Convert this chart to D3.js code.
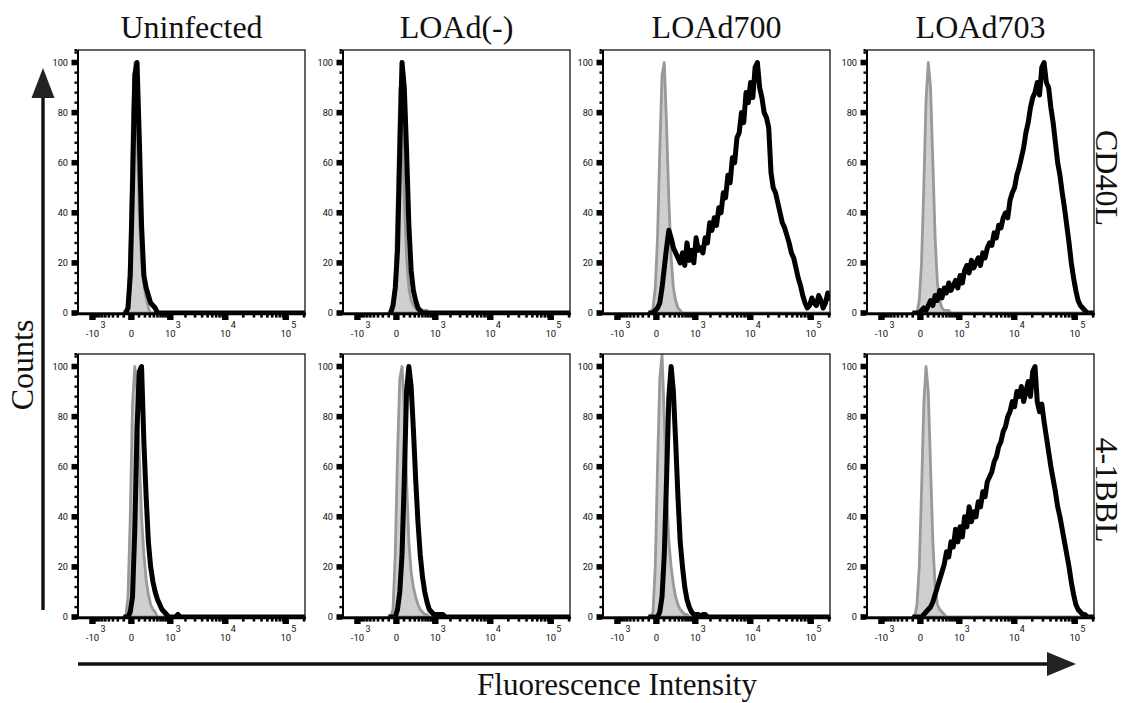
<!DOCTYPE html>
<html><head><meta charset="utf-8">
<script src="https://cdn.jsdelivr.net/npm/d3@7"></script>
<style>body{margin:0;background:#fff}</style>
</head><body><svg id="c" width="1129" height="703"></svg>
<script>
// ---------------- data ----------------
const columns = ["Uninfected", "LOAd(-)", "LOAd700", "LOAd703"];
const rows = ["CD40L", "4-1BBL"];

// histogram bin centres (fluorescence intensity, biexponential axis)
const bins = [-105,-72,-41,-13,13,41,71,104,140,180,223,269,320,376,436,502,573,650,736,828,
  929,1038,1158,1287,1430,1583,1753,1935,2135,2351,2589,2846,3125,3432,3764,4129,4521,4954,5420,5934,
  6487,7095,7752,8474,9255,10110,11037,12042,13152,14346,15660,17079,18639,20316,22167,24162,26355,28725,31329,34140,
  37230,40560,44190,48180,52500,57210,62340,67920,74010,80670,87870,95760,104310,113670,123810,134910,146940,160110,174390,190050,206940];

// counts (% of max) per bin; gray = control, black = stained sample
const uninfCD40L_ctrl = [0,0,3,30,80,100,75,40,20,12,6,2,0];
const uninfCD40L      = [0,0,2,15,50,95,100,70,35,15,10,7,4,3,2,0];
const negCD40L_ctrl   = [0,0,2,15,50,90,80,45,22,10,5,3,2,1,1,1,1,1,0];
const negCD40L        = [0,0,3,10,25,65,100,90,65,35,17,9,5,2,1,0];
const l700CD40L_ctrl  = [0,0,2,10,30,65,95,100,75,45,22,10,5,2,1,0];
const l700CD40L       = [0,0,0,1,2,4,10,18,26,33,30,26,24,22,20,24,19,28,21,25,
  20,30,25,26,24,30,28,36,33,38,35,42,40,48,46,55,52,62,60,70,
  72,80,76,88,84,92,86,98,100,90,86,80,78,74,56,50,48,44,40,36,
  34,31,28,24,22,18,14,11,7,4,2,3,6,4,3,7,5,2,4,8,5];
const l703CD40L_ctrl  = [0,0,0,5,20,50,85,100,90,60,30,12,5,2,1,1,1,0];
const l703CD40L       = [0,0,0,0,1,2,1,3,5,3,7,5,9,6,10,8,12,9,11,13,
  10,15,12,17,19,16,21,18,20,22,19,24,22,26,28,27,32,30,35,34,
  38,40,38,45,48,50,55,58,62,66,72,76,82,86,88,92,87,98,100,92,
  90,82,76,68,60,55,48,42,35,28,20,14,9,5,3,2,1,0];
const uninfBBL_ctrl   = [0,0,8,40,85,100,90,65,40,25,15,9,5,3,2,0];
const uninfBBL        = [0,0,0,2,8,35,75,98,100,70,48,30,20,14,10,7,5,3,2,1,0,0,0,0,1,0];
const negBBL_ctrl     = [0,0,3,25,65,95,100,85,55,30,18,12,8,5,3,2,1,1,0];
const negBBL          = [0,0,0,0,3,10,25,55,90,100,92,75,55,38,25,16,10,6,3,2,1,1,1,1,1,0];
const l700BBL_ctrl    = [0,0,2,20,60,95,105,80,50,30,20,13,8,5,3,2,1,1,0];
const l700BBL         = [0,0,0,0,0,2,8,25,55,88,100,90,70,48,30,20,12,7,4,2,1,1,1,0,1,1,0];
const l703BBL_ctrl    = [0,0,5,20,50,85,100,90,60,30,12,5,3,2,1,0];
const l703BBL         = [0,0,0,0,0,1,2,3,4,6,9,12,15,18,21,26,24,30,28,35,
  30,36,32,40,36,44,38,42,40,46,44,50,48,54,56,58,62,64,68,70,
  74,76,80,82,86,84,90,88,92,86,90,94,88,98,100,86,82,85,78,72,
  66,60,55,50,44,40,35,30,25,20,14,9,5,3,2,1,1,0];

// axis ticks
const yTicks = [0, 20, 40, 60, 80, 100];
const xTickValues = [-1000, 0, 1000, 10000, 100000];
const xTickBase = ["-10", "0", "10", "10", "10"];
const xTickExp  = ["3", "", "3", "4", "5"];
const xMinorTicks = [-900,-800,-700,-600,-500,-400,-300,-200,-100,100,200,300,400,500,600,700,800,900,
  2000,3000,4000,5000,6000,7000,8000,9000,20000,30000,40000,50000,60000,70000,80000,90000,200000];

const panels = [
  {r:0,c:0,ctrl:uninfCD40L_ctrl,stain:uninfCD40L},
  {r:0,c:1,ctrl:negCD40L_ctrl,stain:negCD40L},
  {r:0,c:2,ctrl:l700CD40L_ctrl,stain:l700CD40L},
  {r:0,c:3,ctrl:l703CD40L_ctrl,stain:l703CD40L},
  {r:1,c:0,ctrl:uninfBBL_ctrl,stain:uninfBBL},
  {r:1,c:1,ctrl:negBBL_ctrl,stain:negBBL},
  {r:1,c:2,ctrl:l700BBL_ctrl,stain:l700BBL},
  {r:1,c:3,ctrl:l703BBL_ctrl,stain:l703BBL}
];

// ---------------- layout ----------------
const colLeft = [78, 343, 603, 867];
const rowTop = [50, 354];
const pw = 227, ph = 263;

const svg = d3.select("#c");
const x = d3.scaleSymlog().constant(300).domain([-1940, 207000]).range([0, pw]);
const y = d3.scaleLinear().domain([0, 105]).range([ph, 0]);
const pad = a => bins.map((b, i) => i < a.length ? a[i] : 0);

const area = d3.area().x((d, i) => x(bins[i])).y0(y(0)).y1(d => y(d));
const line = d3.line().x((d, i) => x(bins[i])).y(d => y(d));

const defs = svg.append("defs");
defs.append("clipPath").attr("id", "clip").append("rect")
  .attr("x", -1).attr("y", 0).attr("width", pw + 1).attr("height", ph + 2);

const tickFont = "Roboto, sans-serif";
panels.forEach(p => {
  const g = svg.append("g").attr("transform", `translate(${colLeft[p.c]},${rowTop[p.r]})`);
  const h = g.append("g").attr("clip-path", "url(#clip)");
  h.append("path").datum(pad(p.ctrl)).attr("d", area)
    .attr("fill", "#cfcfcf").attr("stroke", "#999").attr("stroke-width", 2.8)
    .attr("stroke-linejoin", "round");
  h.append("path").datum(pad(p.stain)).attr("d", line)
    .attr("fill", "none").attr("stroke", "#000").attr("stroke-width", 5)
    .attr("stroke-linejoin", "round");

  // frame
  g.append("rect").attr("x", 0).attr("y", 0).attr("width", pw).attr("height", ph)
    .attr("fill", "none").attr("stroke", "#111").attr("stroke-width", 1.3);
  g.append("line").attr("x1", 0).attr("x2", 0).attr("y1", 0).attr("y2", ph + 1)
    .attr("stroke", "#000").attr("stroke-width", 2);
  g.append("line").attr("x1", -1).attr("x2", pw + 1).attr("y1", ph + 1).attr("y2", ph + 1)
    .attr("stroke", "#000").attr("stroke-width", 2.6);

  // y ticks
  d3.range(4, 105, 4).filter(v => v % 20 !== 0).forEach(v => {
    g.append("rect").attr("x", -3.5).attr("y", y(v) - 1.1).attr("width", 2.4).attr("height", 2.4).attr("fill", "#000");
  });
  g.append("rect").attr("x", -3.5).attr("y", -1).attr("width", 2.4).attr("height", 2.4).attr("fill", "#000");
  yTicks.forEach(v => {
    g.append("rect").attr("x", -6.5).attr("y", y(v) - 2.8).attr("width", 5.8).attr("height", 5.6).attr("fill", "#000");
    g.append("text").attr("x", -10).attr("y", y(v) + 3.3).attr("text-anchor", "end")
      .attr("font-family", tickFont).attr("font-size", 9.2).attr("fill", "#111").text(v);
  });

  // x ticks
  xMinorTicks.forEach(v => {
    g.append("rect").attr("x", x(v) - 1.3).attr("y", ph + 1).attr("width", 2.6).attr("height", 3.6).attr("fill", "#000");
  });
  xTickValues.forEach((v, i) => {
    g.append("rect").attr("x", x(v) - 3.2).attr("y", ph + 1).attr("width", 6.4).attr("height", 6).attr("fill", "#000");
    g.append("text").attr("x", x(v)).attr("y", ph + 24).attr("text-anchor", "middle")
      .attr("font-family", tickFont).attr("font-size", 9.5).attr("fill", "#111").text(xTickBase[i]);
    if (xTickExp[i]) {
      g.append("text").attr("x", x(v) + (xTickBase[i].length === 3 ? 8 : 5.5)).attr("y", ph + 15)
        .attr("font-family", tickFont).attr("font-size", 9).attr("fill", "#111").text(xTickExp[i]);
    }
  });
});

// column titles
const serif = "'Liberation Serif', 'Times New Roman', serif";
columns.forEach((t, i) => {
  svg.append("text").attr("x", colLeft[i] + pw / 2).attr("y", 38).attr("text-anchor", "middle")
    .attr("font-family", serif).attr("font-size", 32).attr("fill", "#111").text(t);
});
// row labels
const rowCenters = [178, 490];
rows.forEach((t, i) => {
  svg.append("text").attr("transform", `translate(1096,${rowCenters[i]}) rotate(90)`)
    .attr("text-anchor", "middle").attr("font-family", serif).attr("font-size", 32)
    .attr("fill", "#111").text(t);
});

// axis titles and arrows
svg.append("text").attr("transform", "translate(33,365) rotate(-90)").attr("text-anchor", "middle")
  .attr("font-family", serif).attr("font-size", 32).attr("fill", "#111").text("Counts");
svg.append("text").attr("x", 617).attr("y", 695).attr("text-anchor", "middle")
  .attr("font-family", serif).attr("font-size", 31).attr("fill", "#111").text("Fluorescence Intensity");

svg.append("line").attr("x1", 43).attr("x2", 43).attr("y1", 610).attr("y2", 94)
  .attr("stroke", "#111").attr("stroke-width", 3.4);
svg.append("path").attr("d", "M43,68 L31.5,98 L54.5,98 Z").attr("fill", "#222");
svg.append("line").attr("x1", 78).attr("x2", 1050).attr("y1", 664).attr("y2", 664)
  .attr("stroke", "#111").attr("stroke-width", 3.6);
svg.append("path").attr("d", "M1076,664 L1047,652 L1047,676 Z").attr("fill", "#222");
</script></body></html>
